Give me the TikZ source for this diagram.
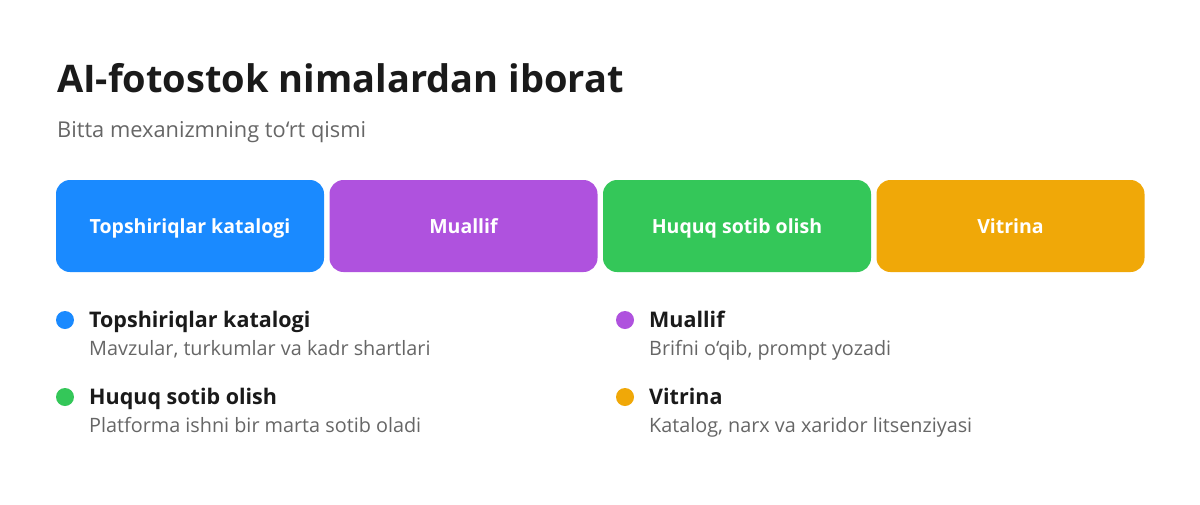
\documentclass[tikz,border=0pt]{standalone}
\usepackage{fontspec}
\setmainfont{Open Sans}
\usetikzlibrary{positioning}
\definecolor{cblue}{HTML}{1A8AFF}
\definecolor{cpurple}{HTML}{AF52DE}
\definecolor{cgreen}{HTML}{34C759}
\definecolor{corange}{HTML}{F0A808}
\definecolor{ink}{HTML}{1A1A1A}
\definecolor{muted}{HTML}{666666}
\tikzset{
  part/.style={fill=#1, rounded corners=14pt, minimum width=268pt, minimum height=92pt,
    inner sep=0pt, text height=18pt, text depth=4pt, text=white, font=\bfseries\fontsize{19.5}{23}\selectfont},
  dot/.style={circle, fill=#1, minimum size=18pt, inner sep=0pt},
  ltitle/.style={anchor=base west, inner sep=0pt, text=ink, font=\bfseries\fontsize{21.5}{25}\selectfont},
  ldesc/.style={anchor=base west, inner sep=0pt, text=muted, font=\fontsize{19.8}{23}\selectfont}
}
\begin{document}
\begin{tikzpicture}[x=1pt, y=-1pt]
\useasboundingbox[fill=white] (0,0) rectangle (1200,504);
% heading
\node[anchor=base west, inner sep=0pt, text=ink, font=\bfseries\fontsize{38}{44}\selectfont] (title) at (57,92) {AI-fotostok nimalardan iborat};
\node[anchor=base west, inner sep=0pt, text=muted, font=\fontsize{21.8}{26}\selectfont] (sub) at (57,137) {Bitta mexanizmning to‘rt qismi};
% four parts
\node[part=cblue] (katalog) at (190,226) {Topshiriqlar katalogi};
\node[part=cpurple] (muallif) at (463.5,226) {Muallif};
\node[part=cgreen] (huquq) at (737,226) {Huquq sotib olish};
\node[part=corange] (vitrina) at (1010.5,226) {Vitrina};
% legend
\node[dot=cblue] (d1) at (65,320) {};
\node[ltitle] (t1) at (89,327) {Topshiriqlar katalogi};
\node[ldesc] (s1) at (89,355) {Mavzular, turkumlar va kadr shartlari};
\node[dot=cpurple] (d2) at (625,320) {};
\node[ltitle] (t2) at (649,327) {Muallif};
\node[ldesc] (s2) at (649,355) {Brifni o‘qib, prompt yozadi};
\node[dot=cgreen] (d3) at (65,397) {};
\node[ltitle] (t3) at (89,404) {Huquq sotib olish};
\node[ldesc] (s3) at (89,432) {Platforma ishni bir marta sotib oladi};
\node[dot=corange] (d4) at (625,397) {};
\node[ltitle] (t4) at (649,404) {Vitrina};
\node[ldesc] (s4) at (649,432) {Katalog, narx va xaridor litsenziyasi};
\end{tikzpicture}
\end{document}
